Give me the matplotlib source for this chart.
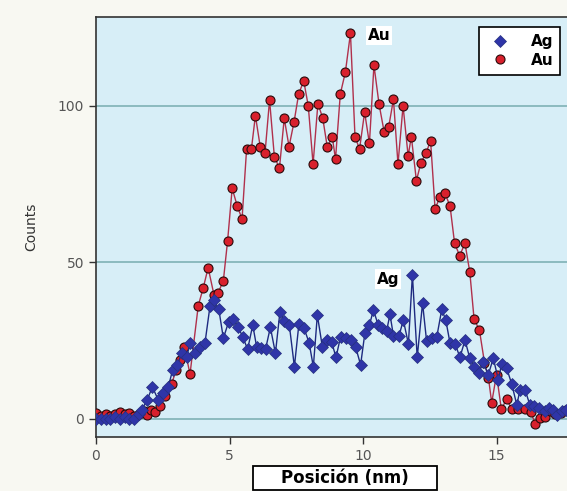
import matplotlib
matplotlib.use("Agg")
import matplotlib.pyplot as plt
from matplotlib.patches import Rectangle

# --- data ---
au_x = [0.0, 0.18, 0.36, 0.53, 0.71, 0.89, 1.07, 1.25, 1.43, 1.6, 1.78, 1.92, 2.05, 2.2, 2.4,
        2.6, 2.83, 3.0, 3.15, 3.31, 3.52, 3.83, 4.02, 4.2, 4.42, 4.57, 4.77, 4.93, 5.1, 5.29,
        5.47, 5.64, 5.82, 5.97, 6.15, 6.33, 6.5, 6.68, 6.87, 7.05, 7.23, 7.42, 7.59, 7.78, 7.95,
        8.13, 8.31, 8.49, 8.66, 8.85, 8.97, 9.15, 9.34, 9.53, 9.7, 9.87, 10.06, 10.24, 10.41,
        10.6, 10.79, 10.96, 11.14, 11.31, 11.5, 11.69, 11.81, 12.0, 12.17, 12.36, 12.53, 12.7,
        12.88, 13.07, 13.26, 13.43, 13.62, 13.82, 14.0, 14.16, 14.36, 14.55, 14.7, 14.82, 15.0,
        15.18, 15.38, 15.57, 15.8, 16.07, 16.28, 16.45, 16.63, 16.8, 17.0, 17.2, 17.4, 17.6]
au_y = [2, 1, 1.5, 1, 1.5, 2.3, 1.5, 2, 1, 1.5, 2.5, 1.3, 2.9, 2.3, 4,
        7.5, 11.2, 15.5, 19, 23.1, 14.3, 36.2, 42, 48.3, 39.6, 40.2, 44.2, 57, 73.7, 68,
        63.9, 86.2, 86.2, 96.9, 87, 84.9, 101.9, 83.8, 80.1, 96, 87, 95, 103.8, 108, 100,
        81.4, 100.7, 96.2, 87, 90, 83, 103.8, 110.8, 123.2, 90.2, 86.2, 98, 88, 113,
        100.6, 91.8, 93.2, 102.1, 81.4, 100, 84, 90.2, 76.1, 81.9, 84.9, 88.9, 67,
        71, 72.1, 68, 56.1, 52.2, 56.1, 46.9, 31.9, 28.4, 18, 13, 5.2, 14.2,
        3.2, 6.3, 3.2, 3.2, 3.1, 2.3, -1.5, 0.2, 0.7, 2.5, 1.5, 2, 3]

ag_x = [0.0, 0.18, 0.36, 0.53, 0.71, 0.89, 1.07, 1.25, 1.43, 1.6, 1.71, 1.92, 2.11, 2.33, 2.52,
        2.71, 2.87, 3.05, 3.21, 3.4, 3.52, 3.71, 3.9, 4.08, 4.27, 4.42, 4.6, 4.77, 4.97, 5.14,
        5.33, 5.49, 5.68, 5.87, 6.02, 6.18, 6.35, 6.53, 6.72, 6.89, 7.05, 7.24, 7.43, 7.6, 7.79,
        7.98, 8.14, 8.29, 8.48, 8.64, 8.82, 8.99, 9.16, 9.35, 9.54, 9.72, 9.91, 10.07, 10.24,
        10.39, 10.57, 10.73, 10.88, 11.01, 11.14, 11.35, 11.51, 11.7, 11.85, 12.03, 12.23,
        12.38, 12.57, 12.76, 12.95, 13.1, 13.26, 13.45, 13.63, 13.82, 14.0, 14.17, 14.34, 14.5,
        14.69, 14.88, 15.07, 15.19, 15.38, 15.57, 15.76, 15.88, 16.07, 16.25, 16.4, 16.6, 16.8,
        16.95, 17.1, 17.25, 17.45, 17.6]
ag_y = [0, 0, 0, 0, 0.5, 0, 0.5, 0, 0, 1.5, 2.9, 6.1, 10.3, 6.1, 8.2,
        10.3, 15.7, 17.3, 21, 19.9, 24.2, 21.2, 23.1, 24.2, 36.1, 38, 35, 25.8, 31.1, 31.9,
        29.3, 26.3, 22.3, 30, 22.9, 22.6, 22.3, 29.3, 21, 34.3, 31.4, 30, 16.7, 30.4, 29,
        24.4, 16.7, 33.2, 22.9, 25.2, 24.7, 19.7, 26.3, 25.8, 25.2, 23.1, 17.3, 27.4, 30,
        34.8, 30, 29, 28, 33.4, 26.6, 26.6, 31.6, 24, 46, 19.7, 37,
        25, 25.8, 26.1, 35, 31.6, 24.2, 24, 19.7, 25.2, 19.4, 16.7, 14.6, 18.3,
        14.1, 19.4, 12.5, 17.6, 16.2, 11.2, 4.5, 9.3, 9.3, 4.5, 4, 3.5, 2.5,
        3.5, 3, 1.3, 2.5, 3]

x_ticks = [0, 5, 10, 15]
y_ticks = [0, 50, 100]

W, H = 567, 491
fig = plt.figure(figsize=(W/100, H/100), dpi=100, facecolor="#f8f8f2")
ax = fig.add_axes([96/W, 1-437/H, 1-96/W, (437-17)/H])
ax.set_facecolor("#d7eef7")

for yv in y_ticks:
    ax.axhline(yv, color="#7fb1b5", lw=1.2, zorder=1)

ax.plot(au_x, au_y, color="#b0304c", lw=1.0, marker="o", ms=6.5,
        mfc="#d8202c", mec="#2a0a0a", mew=0.8, zorder=3, label="Au")
ax.plot(ag_x, ag_y, color="#1e2a80", lw=1.0, marker="D", ms=6.5,
        mfc="#2f35a8", mec="#26307f", mew=0.5, zorder=4, label="Ag")

ax.set_xlim(0, 17.64)
ax.set_ylim(-5.75, 128.4)
ax.set_xticks(x_ticks)
ax.set_yticks(y_ticks)
ax.tick_params(axis="both", labelsize=10, labelcolor="#555555", color="#333333",
               length=5, width=1, direction="out")
for s in ["left", "bottom", "top"]:
    ax.spines[s].set_color("#333333")
    ax.spines[s].set_linewidth(1.2)
ax.spines["right"].set_visible(False)

ax.set_ylabel("Counts", fontsize=10, color="#333333", labelpad=14)

# annotations
ax.text(10.6, 122.4, "Au", fontsize=11, fontweight="bold", ha="center", va="center",
        bbox=dict(facecolor="white", edgecolor="none", pad=1.5), zorder=6)
ax.text(10.94, 44.7, "Ag", fontsize=11, fontweight="bold", ha="center", va="center",
        bbox=dict(facecolor="white", edgecolor="none", pad=1.5), zorder=6)

# x label in a box
fig.patches.append(Rectangle((253/W, 1-490/H), (437-253)/W, (490-466)/H,
                             transform=fig.transFigure, facecolor="white",
                             edgecolor="black", lw=1.3, zorder=5))
fig.text(345/W, 1-478/H, "Posición (nm)", fontsize=12, fontweight="bold",
         ha="center", va="center", zorder=6)

# legend
h, l = ax.get_legend_handles_labels()
leg = ax.legend([h[1], h[0]], [l[1], l[0]], loc="upper right",
                bbox_to_anchor=((560-96)/(W-96), (437-27)/420),
                prop=dict(weight="bold", size=11), frameon=True, fancybox=False,
                edgecolor="black", framealpha=1, handlelength=1.8, handletextpad=1.1,
                borderpad=0.45, labelspacing=0.25, borderaxespad=0)
for line in leg.get_lines():
    line.set_linestyle("none")
leg.get_frame().set_linewidth(1.2)

fig.savefig("out.png", dpi=100, facecolor=fig.get_facecolor())
